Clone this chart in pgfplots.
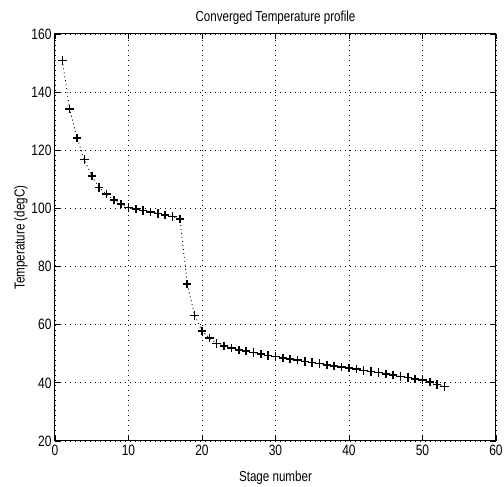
\documentclass[border=0pt]{standalone}
\usepackage{pgfplots}
\pgfplotsset{compat=1.18}
\usepackage{fontspec}
\setmainfont[FakeStretch=0.8]{Liberation Sans}
\begin{document}
\begin{tikzpicture}
\useasboundingbox (-55pt,-46pt) rectangle (449pt,441pt);
\begin{axis}[
  at={(0,0)}, anchor=south west,
  scale only axis,
  width=441pt, height=407pt,
  xmin=0, xmax=60, ymin=20, ymax=160,
  xtick={0,10,...,60}, ytick={20,40,...,160},
  grid=major,
  major grid style={black, line width=0.8pt, dash pattern=on 1pt off 4pt},
  axis line style={black, line width=1pt},
  tick style={black, line width=0.8pt},
  tick align=inside,
  major tick length=5pt,
  /pgf/number format/assume math mode=true,
  tick label style={font=\fontsize{15}{17}\selectfont},
  label style={font=\fontsize{14.5}{17}\selectfont},
  title style={font=\fontsize{14.5}{17}\selectfont, yshift=0pt},
  title={Converged Temperature profile},
  xlabel={Stage number},
  ylabel={Temperature (degC)},
  xlabel style={yshift=-9pt},
  ylabel style={yshift=-3pt},
  xticklabel style={yshift=0pt},
]
\addplot[black, line width=0.8pt, dash pattern=on 1pt off 3pt, mark=+, mark size=4.2pt,
  mark options={solid, line width=1.6pt}] coordinates {
(1,150.9) (2,134.2) (3,124.2) (4,116.8) (5,111.2) (6,107.2) (7,104.9)
(8,102.9) (9,101.5) (10,100.3) (11,99.8) (12,99.3) (13,98.8) (14,98.3)
(15,97.8) (16,97.2) (17,96.3) (18,74.0) (19,63.2) (20,57.9) (21,55.4)
(22,53.6) (23,52.6) (24,52.0) (25,51.4) (26,50.9) (27,50.4) (28,49.9)
(29,49.4) (30,49.0) (31,48.6) (32,48.2) (33,47.8) (34,47.4) (35,47.0)
(36,46.6) (37,46.2) (38,45.8) (39,45.4) (40,45.1) (41,44.7) (42,44.3)
(43,43.9) (44,43.5) (45,43.0) (46,42.6) (47,42.2) (48,41.8) (49,41.4)
(50,41.0) (51,40.3) (52,39.5) (53,38.8)
};
\end{axis}
\end{tikzpicture}
\end{document}
